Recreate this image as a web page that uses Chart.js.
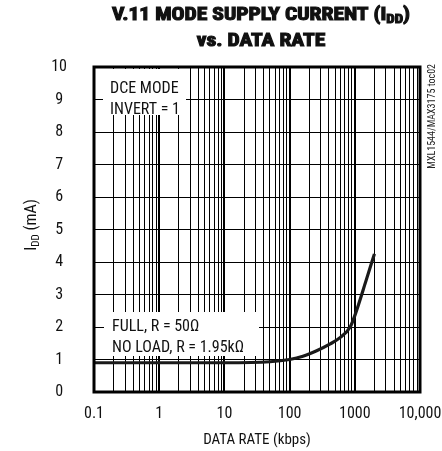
<!DOCTYPE html>
<html>
<head>
<meta charset="utf-8">
<script src="https://cdn.jsdelivr.net/npm/chart.js@4.4.1/dist/chart.umd.min.js"></script>
<style>
  html, body { margin: 0; padding: 0; background: #fff; }
  #wrap { width: 442px; height: 451px; }
</style>
</head>
<body>
<div id="wrap"><canvas id="chart" width="442" height="451"></canvas></div>
<script>
// curve (kbps -> mA)
const dataRate = [0.1, 1, 10, 50, 100, 160, 260, 420, 600, 850, 1000, 1500, 2000];
const supplyCurrent = [0.9, 0.9, 0.9, 0.93, 1.0, 1.1, 1.27, 1.48, 1.68, 2.0, 2.35, 3.45, 4.25];

const xDecades = [0.1, 1, 10, 100, 1000, 10000];
const xTickLabels = ["0.1", "1", "10", "100", "1000", "10,000"];
const yTickLabels = ["0", "1", "2", "3", "4", "5", "6", "7", "8", "9", "10"];

// pick a narrow face if one is installed
function hasFont(name) {
  const c = document.createElement("canvas").getContext("2d");
  const s = "DCE MODE 10,000 abcxyz";
  return ["monospace", "serif"].some(base => {
    c.font = "40px " + base;
    const w0 = c.measureText(s).width;
    c.font = "40px '" + name + "', " + base;
    return c.measureText(s).width !== w0;
  });
}
const candidates = ["Liberation Sans Narrow", "Roboto Condensed", "DejaVu Sans Condensed", "Liberation Sans"];
const found = candidates.filter(hasFont);
const FAMILY = found.length ? found[0] : "sans-serif";
const FONT = "'" + FAMILY + "', sans-serif";

// size so that "DCE MODE" spans ~71px like the reference
const mctx = document.createElement("canvas").getContext("2d");
mctx.font = "16px " + FONT;
const fk = Math.min(1, 71 / mctx.measureText("DCE MODE").width);
const fs = (n) => Math.round(n * fk * 10) / 10;

function logGridTicks() {
  const ticks = [];
  xDecades.forEach((d, i) => {
    ticks.push({ value: d, major: true });
    if (i < xDecades.length - 1) {
      for (let k = 2; k <= 9; k++) ticks.push({ value: d * k, major: false });
    }
  });
  return ticks;
}

function decadeLabel(v) {
  const i = xDecades.findIndex(d => Math.abs(v / d - 1) < 1e-6);
  return i >= 0 ? xTickLabels[i] : "";
}

// text with a subscript part
function drawSub(ctx, parts, x, y, align, sx) {
  sx = sx || 1;
  let total = 0;
  parts.forEach(p => { ctx.font = p.font; total += ctx.measureText(p.text).width; });
  ctx.save();
  ctx.translate(x, y);
  ctx.scale(sx, 1);
  let cx = align === "center" ? -total / 2 : 0;
  ctx.textAlign = "left";
  parts.forEach(p => {
    ctx.font = p.font;
    ctx.fillText(p.text, cx, p.dy || 0);
    if (p.bold) {
      ctx.lineWidth = 1.1;
      ctx.strokeText(p.text, cx, p.dy || 0);
    }
    cx += ctx.measureText(p.text).width;
  });
  ctx.restore();
  return total * sx;
}

const annotate = {
  id: "annotate",
  beforeDatasetsDraw(chart) {
    const ctx = chart.ctx;
    ctx.save();
    ctx.fillStyle = "#fff";
    ctx.fillRect(103, 69, 83, 46);
    ctx.fillRect(104, 312, 155, 44);
    ctx.fillStyle = "#111";
    ctx.font = fs(16) + "px " + FONT;
    ctx.textBaseline = "alphabetic";
    ctx.textAlign = "left";
    ctx.fillText("DCE MODE", 110, 93);
    ctx.fillText("INVERT = 1", 110, 114);
    ctx.fillText("FULL, R = 50\u03A9", 112, 331);
    ctx.fillText("NO LOAD, R = 1.95k\u03A9", 112, 352);
    ctx.restore();
  },
  afterDraw(chart) {
    const ctx = chart.ctx;
    const a = chart.chartArea;
    ctx.save();
    // frame
    ctx.strokeStyle = "#000";
    ctx.lineWidth = 3;
    ctx.strokeRect(a.left, a.top, a.right - a.left, a.bottom - a.top);

    // title, stretched/squeezed to the reference width
    ctx.fillStyle = "#111";
    ctx.strokeStyle = "#111";
    ctx.textBaseline = "alphabetic";
    const tf = "bold 19px " + FONT;
    const sf = "bold 13px " + FONT;
    const line1 = [
      { text: "V.11 MODE SUPPLY CURRENT (I", font: tf, bold: true },
      { text: "DD", font: sf, dy: 3, bold: true },
      { text: ")", font: tf, bold: true }
    ];
    let w = 0;
    line1.forEach(p => { ctx.font = p.font; w += ctx.measureText(p.text).width; });
    const sx = Math.max(0.7, Math.min(1.2, 298 / w));
    drawSub(ctx, line1, 261, 20, "center", sx);
    drawSub(ctx, [{ text: "vs. DATA RATE", font: tf, bold: true }], 261, 46, "center", sx);

    // y axis title
    ctx.save();
    ctx.translate(36, 225);
    ctx.rotate(-Math.PI / 2);
    ctx.fillStyle = "#111";
    drawSub(ctx, [
      { text: "I", font: fs(16) + "px " + FONT },
      { text: "DD", font: fs(11) + "px " + FONT, dy: 3 },
      { text: " (mA)", font: fs(16) + "px " + FONT }
    ], 0, 0, "center");
    ctx.restore();

    // side note
    ctx.save();
    ctx.translate(435, 64);
    ctx.rotate(-Math.PI / 2);
    ctx.font = fs(10) + "px " + FONT;
    ctx.fillStyle = "#222";
    ctx.textAlign = "right";
    ctx.fillText("MXL1544/MAX3175 toc02", 0, 0);
    ctx.restore();
    ctx.restore();
  }
};

new Chart(document.getElementById("chart"), {
  type: "line",
  data: {
    datasets: [{
      data: dataRate.map((r, i) => ({ x: r, y: supplyCurrent[i] })),
      borderColor: "#1a1a1a",
      borderWidth: 3.2,
      pointRadius: 0,
      fill: false,
      cubicInterpolationMode: "monotone"
    }]
  },
  options: {
    responsive: false,
    animation: false,
    layout: { padding: { top: 67, right: 22, left: 0, bottom: 0 } },
    plugins: { legend: { display: false }, tooltip: { enabled: false } },
    scales: {
      x: {
        type: "logarithmic",
        min: 0.1,
        max: 10000,
        afterBuildTicks: (scale) => { scale.ticks = logGridTicks(); },
        afterFit: (scale) => {
          scale.height = 59;
          scale.paddingLeft = 0;
          scale.paddingRight = 0;
        },
        ticks: {
          autoSkip: false,
          maxRotation: 0,
          padding: 12,
          color: "#111",
          font: { family: FONT, size: fs(16) },
          callback: (v) => decadeLabel(v)
        },
        grid: {
          color: "#000",
          drawTicks: false,
          lineWidth: (c) => (c.tick && c.tick.major ? 2 : 1)
        },
        border: { display: false },
        title: {
          display: true,
          text: "DATA RATE (kbps)",
          color: "#111",
          font: { family: FONT, size: fs(15) },
          padding: { top: 0, bottom: 2 }
        }
      },
      y: {
        min: 0,
        max: 10,
        afterFit: (scale) => { scale.width = 94; },
        ticks: {
          stepSize: 1,
          padding: 27,
          crossAlign: "center",
          color: "#111",
          font: { family: FONT, size: fs(16) },
          callback: (v, i) => yTickLabels[i]
        },
        grid: { color: "#000", lineWidth: 1, drawTicks: false },
        border: { display: false }
      }
    }
  },
  plugins: [annotate]
});
</script>
</body>
</html>
